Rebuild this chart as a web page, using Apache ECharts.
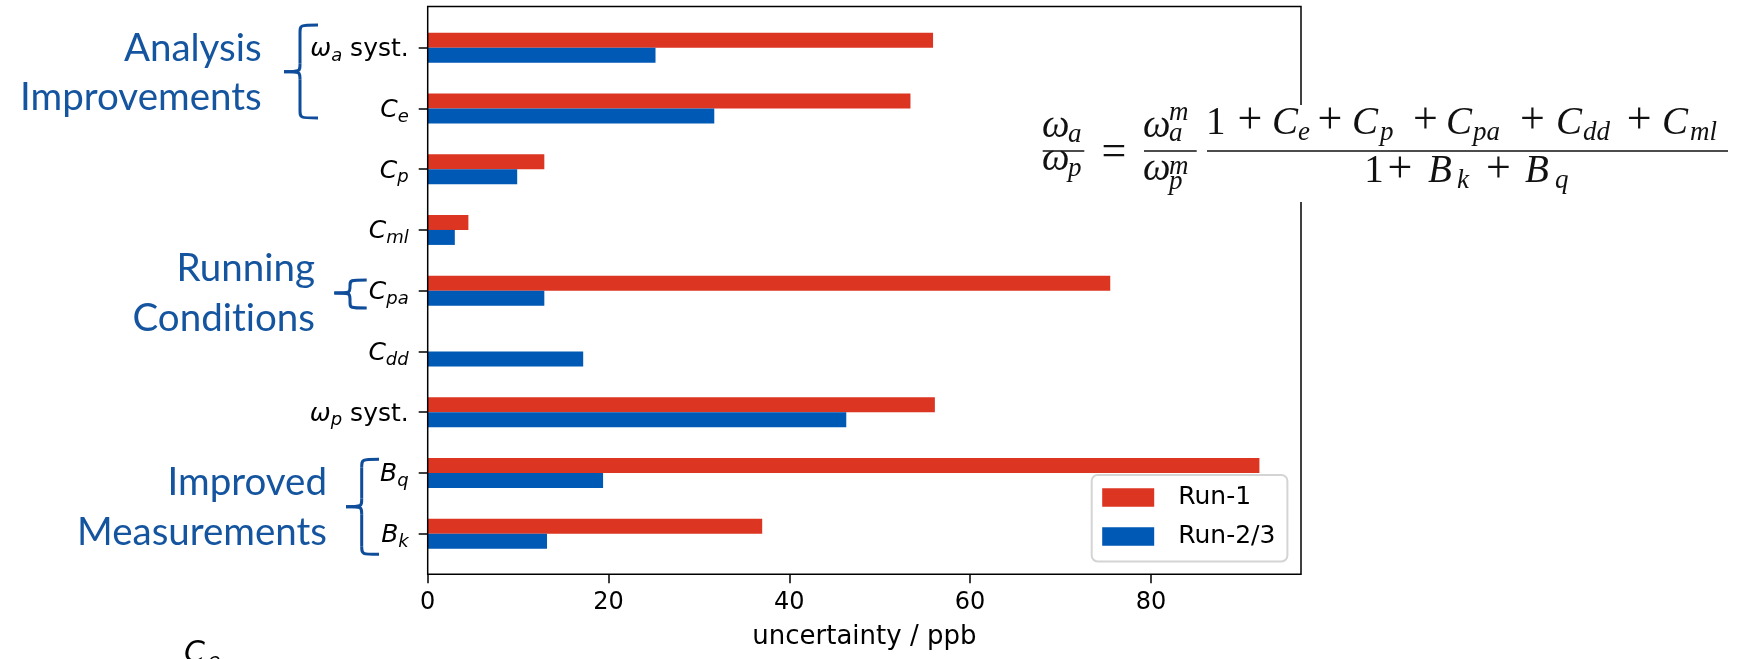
<!DOCTYPE html>
<html>
<head>
<meta charset="utf-8">
<script src="https://cdn.jsdelivr.net/npm/echarts@6/dist/echarts.min.js"></script>
<style>
  html, body { margin: 0; padding: 0; background: #fff; }
  #chart { width: 1739px; height: 659px; }
</style>
</head>
<body>
<div id="chart"></div>
<script>
// Systematic uncertainty contributions (ppb), Run-1 vs Run-2/3
const categories = ['ω_a syst.', 'C_e', 'C_p', 'C_ml', 'C_pa', 'C_dd', 'ω_p syst.', 'B_q', 'B_k'];
const run1 = [55.9, 53.4, 12.9, 4.5, 75.5, 0, 56.1, 92.0, 37.0];
const run23 = [25.2, 31.7, 9.9, 3.0, 12.9, 17.2, 46.3, 19.4, 13.2];
const xTicks = [0, 20, 40, 60, 80];
const xMax = 96.6;

const RED = '#dc3522';
const BLUE = '#0059b4';
const GROUP = '#15559f';
const BRACE = '#0f4c99';
const SANS = '"DejaVu Sans", sans-serif';
const SERIF = '"Liberation Serif", "Times New Roman", serif';
const LABEL_FONT = 'Lato, "Open Sans", sans-serif';

// text placed by its baseline; mid is the font's middle-line ratio
function txt(s, x, base, size, opts) {
  opts = opts || {};
  const mid = opts.mid != null ? opts.mid : 0.3375;
  const family = opts.family || SERIF;
  const align = opts.align || 'left';
  return {
    type: 'text', x: x, y: base - mid * size, z: 101,
    style: {
      text: s,
      font: (opts.italic ? 'italic ' : '') + size + 'px ' + family,
      fill: opts.color || '#111',
      align: align, textAlign: align,
      verticalAlign: 'middle', textVerticalAlign: 'middle'
    }
  };
}
function hline(x1, x2, y, w) {
  return { type: 'line', z: 101, shape: { x1: x1, y1: y, x2: x2, y2: y },
           style: { stroke: '#111', lineWidth: w || 1.3 } };
}

// curly brace opening to the right, tip pointing left
function brace(xv, xr, xp, yt, ym, yb, r) {
  const st = { stroke: BRACE, lineWidth: 3, fill: null };
  const bz = (x1, y1, cx, cy, x2, y2) => ({ type: 'bezierCurve', z: 101,
    shape: { x1: x1, y1: y1, x2: x2, y2: y2, cpx1: cx, cpy1: cy, cpx2: cx, cpy2: cy }, style: st });
  const ln = (x1, y1, x2, y2) => ({ type: 'line', z: 101, shape: { x1: x1, y1: y1, x2: x2, y2: y2 }, style: st });
  return [
    bz(xr, yt, xv, yt, xv, yt + r),
    ln(xv, yt + r, xv, ym - r),
    bz(xv, ym - r, xv, ym, xp, ym),
    bz(xp, ym, xv, ym, xv, ym + r),
    ln(xv, ym + r, xv, yb - r),
    bz(xv, yb - r, xv, yb, xr, yb)
  ];
}

const S = 39, s = 27, P = 44;   // equation main / script / operator sizes
const it = { italic: true };
const ctr = { align: 'center' };
const eq = [
  // white card behind the formula
  { type: 'rect', z: 100, shape: { x: 1035, y: 105, width: 704, height: 97 }, style: { fill: '#fff' } },
  // omega_a / omega_p
  txt('ω', 1042, 140, S, it), txt('a', 1068, 144, s, it),
  hline(1042.7, 1084.3, 151),
  txt('ω', 1042, 173, S, it), txt('p', 1068, 178, s, it),
  txt('=', 1114, 168, P, ctr),
  // omega_a^m / omega_p^m
  txt('ω', 1143, 140, S, it), txt('m', 1169, 122, s, it), txt('a', 1169, 143, s, it),
  hline(1144, 1196.7, 151),
  txt('ω', 1143, 183, S, it), txt('m', 1169, 176, s, it), txt('p', 1169, 191, s, it),
  // corrections over beam dynamics terms
  txt('1', 1215.8, 136.7, S, ctr),
  txt('+', 1250, 136.7, P, ctr),
  txt('C', 1272, 136.7, S, it), txt('e', 1298, 142, s, it),
  txt('+', 1330, 136.7, P, ctr),
  txt('C', 1352, 136.7, S, it), txt('p', 1380, 142, s, it),
  txt('+', 1425.5, 136.7, P, ctr),
  txt('C', 1446, 136.7, S, it), txt('pa', 1473, 142, s, it),
  txt('+', 1532.5, 136.7, P, ctr),
  txt('C', 1556, 136.7, S, it), txt('dd', 1583, 142, s, it),
  txt('+', 1639.2, 136.7, P, ctr),
  txt('C', 1662, 136.7, S, it), txt('ml', 1690, 142, s, it),
  hline(1207, 1728, 151),
  txt('1', 1374, 185, S, ctr),
  txt('+', 1400, 185, P, ctr),
  txt('B', 1428, 185, S, it), txt('k', 1457, 190, s, it),
  txt('+', 1498.3, 185, P, ctr),
  txt('B', 1525, 185, S, it), txt('q', 1555, 190, s, it)
];

const LM = 0.387, GS = 38.5;
const grp = (t, x, b) => txt(t, x, b, GS, { family: LABEL_FONT, color: GROUP, align: 'right', mid: LM });
const groups = [
  grp('Analysis', 261.7, 63),
  grp('Improvements', 261.7, 112.5),
  grp('Running', 315, 283),
  grp('Condit\u200Cions', 315, 333),
  grp('Improved', 327, 497),
  grp('Measurements', 327, 547)
].concat(
  brace(300, 318, 284, 25, 71.7, 118, 8),
  brace(350, 366.7, 334.3, 280, 293, 308, 6),
  brace(361.7, 379, 346, 459.3, 506.7, 554.3, 8),
  [txt('C', 184, 664.5, 30, { italic: true, family: SANS, mid: 0.346, color: '#000' }),
   txt('e', 208, 669, 20, { italic: true, family: SANS, mid: 0.346, color: '#000' })]
);

const chart = echarts.init(document.getElementById('chart'), null, { renderer: 'canvas' });
chart.setOption({
  backgroundColor: '#fff',
  animation: false,
  grid: [
    { left: 427.7, top: 17.3, width: 873.3, height: 546.75 },
    { left: 427.7, top: 6.5, width: 873.3, height: 567.8, show: true,
      borderColor: '#000', borderWidth: 1.5, backgroundColor: 'transparent', z: 5 }
  ],
  xAxis: [
    { gridIndex: 0, type: 'value', min: 0, max: xMax, show: false },
    { gridIndex: 1, type: 'value', min: 0, max: xMax,
      axisLine: { show: false },
      splitLine: { show: false },
      axisTick: { show: true, length: 9, customValues: xTicks, lineStyle: { color: '#000', width: 1.5 } },
      axisLabel: { customValues: xTicks, margin: 16, fontSize: 24, fontFamily: SANS, color: '#000' },
      name: 'uncertainty / ppb', nameLocation: 'middle', nameGap: 50,
      nameTextStyle: { fontSize: 26, fontFamily: SANS, color: '#000' } }
  ],
  yAxis: [
    { gridIndex: 0, type: 'category', data: categories, inverse: true,
      axisLine: { show: false },
      axisTick: { show: true, alignWithLabel: true, length: 9, lineStyle: { color: '#000', width: 1.5 } },
      axisLabel: {
        margin: 19, color: '#000', fontFamily: SANS, fontSize: 25,
        formatter: function (v) {
          const m = v.match(/^(.)_(\S+)(.*)$/);
          return '{m|' + m[1] + '}{s|' + m[2] + '}' + (m[3] ? '{n|' + m[3] + '}' : '');
        },
        rich: {
          m: { fontFamily: SANS, fontStyle: 'italic', fontSize: 25, lineHeight: 34, color: '#000', padding: [4, 0, 0, 0] },
          s: { fontFamily: SANS, fontStyle: 'italic', fontSize: 18, lineHeight: 34, color: '#000', padding: [17, 0, 0, 0] },
          n: { fontFamily: SANS, fontSize: 25, lineHeight: 34, color: '#000', padding: [4, 0, 0, 0] }
        }
      } },
    { gridIndex: 1, type: 'value', min: 0, max: 1, show: false }
  ],
  legend: {
    orient: 'vertical', left: 1091.7, top: 475,
    data: ['Run-1', 'Run-2/3'],
    icon: 'rect', itemWidth: 52, itemHeight: 18.5, itemGap: 13,
    padding: [9.5, 12, 12, 10.5],
    backgroundColor: '#fff', borderColor: '#d4d4d4', borderWidth: 2, borderRadius: 6,
    textStyle: { fontSize: 25, fontFamily: SANS, color: '#000', lineHeight: 26, padding: [0, 0, 0, 19] },
    z: 20
  },
  series: [
    { type: 'bar', name: 'Run-1', xAxisIndex: 0, yAxisIndex: 0, data: run1,
      barWidth: 15, barGap: '0%', itemStyle: { color: RED } },
    { type: 'bar', name: 'Run-2/3', xAxisIndex: 0, yAxisIndex: 0, data: run23,
      barWidth: 15, barGap: '0%', itemStyle: { color: BLUE } }
  ],
  graphic: { elements: groups.concat(eq) }
});
</script>
</body>
</html>
